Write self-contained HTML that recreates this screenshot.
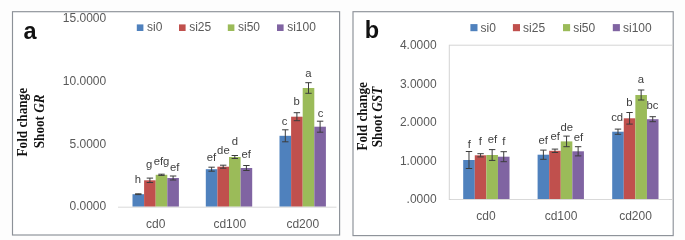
<!DOCTYPE html>
<html><head><meta charset="utf-8"><title>chart</title>
<style>html,body{margin:0;padding:0;background:#fdfdfd;}svg{display:block;}</style></head>
<body><svg width="685" height="240" viewBox="0 0 685 240">
<rect width="685" height="240" fill="#fdfdfd"/>
<rect x="12.5" y="11.7" width="327.1" height="223.3" fill="#ffffff" stroke="#8c9198" stroke-width="1.15"/>
<text x="23.5" y="38.6" font-family="Liberation Sans, sans-serif" font-weight="bold" font-size="23.5" fill="#111">a</text>
<text x="106.2" y="22" text-anchor="end" font-family="Liberation Sans, sans-serif" font-size="12" fill="#595959">15.0000</text>
<text x="106.2" y="85.2" text-anchor="end" font-family="Liberation Sans, sans-serif" font-size="12" fill="#595959">10.0000</text>
<text x="106.2" y="147.7" text-anchor="end" font-family="Liberation Sans, sans-serif" font-size="12" fill="#595959">5.0000</text>
<text x="106.2" y="210.2" text-anchor="end" font-family="Liberation Sans, sans-serif" font-size="12" fill="#595959">0.0000</text>
<text transform="translate(27.2,122.2) rotate(-90) scale(1,1.06)" text-anchor="middle" font-family="Liberation Serif, serif" font-weight="bold" font-size="13.2" fill="#111">Fold change</text>
<text transform="translate(44,121.3) rotate(-90) scale(1,1.06)" text-anchor="middle" font-family="Liberation Serif, serif" font-weight="bold" font-size="13.2" fill="#111">Shoot <tspan font-style="italic">GR</tspan></text>
<rect x="136.8" y="24.4" width="6.6" height="6.6" fill="#4f81bd"/>
<text x="147.0" y="31.3" font-family="Liberation Sans, sans-serif" font-size="12" fill="#595959">si0</text>
<rect x="179" y="24.4" width="6.6" height="6.6" fill="#c0504d"/>
<text x="189.2" y="31.3" font-family="Liberation Sans, sans-serif" font-size="12" fill="#595959">si25</text>
<rect x="227.8" y="24.4" width="6.6" height="6.6" fill="#9bbb59"/>
<text x="238.0" y="31.3" font-family="Liberation Sans, sans-serif" font-size="12" fill="#595959">si50</text>
<rect x="277" y="24.4" width="6.6" height="6.6" fill="#8064a2"/>
<text x="287.2" y="31.3" font-family="Liberation Sans, sans-serif" font-size="12" fill="#595959">si100</text>
<rect x="132.50" y="194.2" width="11.6" height="12.50" fill="#4f81bd"/>
<path d="M138.30 193.79999999999998V194.6M135.10 193.79999999999998h6.4M135.10 194.6h6.4" stroke="#3c3c3c" stroke-width="1" fill="none"/>
<text x="137.8" y="182.6" text-anchor="middle" font-family="Liberation Sans, sans-serif" font-size="11.3" fill="#404040">h</text>
<rect x="144.10" y="180.3" width="11.6" height="26.40" fill="#c0504d"/>
<path d="M149.90 178.10000000000002V182.5M146.70 178.10000000000002h6.4M146.70 182.5h6.4" stroke="#3c3c3c" stroke-width="1" fill="none"/>
<text x="149.2" y="168.3" text-anchor="middle" font-family="Liberation Sans, sans-serif" font-size="11.3" fill="#404040">g</text>
<rect x="155.70" y="174.8" width="11.6" height="31.90" fill="#9bbb59"/>
<path d="M161.50 174.20000000000002V175.4M158.30 174.20000000000002h6.4M158.30 175.4h6.4" stroke="#3c3c3c" stroke-width="1" fill="none"/>
<text x="161.5" y="165" text-anchor="middle" font-family="Liberation Sans, sans-serif" font-size="11.3" fill="#404040">efg</text>
<rect x="167.30" y="178" width="11.6" height="28.70" fill="#8064a2"/>
<path d="M173.10 176V180M169.90 176h6.4M169.90 180h6.4" stroke="#3c3c3c" stroke-width="1" fill="none"/>
<text x="174.6" y="170.6" text-anchor="middle" font-family="Liberation Sans, sans-serif" font-size="11.3" fill="#404040">ef</text>
<rect x="205.80" y="169.2" width="11.6" height="37.50" fill="#4f81bd"/>
<path d="M211.60 167.2V171.2M208.40 167.2h6.4M208.40 171.2h6.4" stroke="#3c3c3c" stroke-width="1" fill="none"/>
<text x="211.5" y="160.8" text-anchor="middle" font-family="Liberation Sans, sans-serif" font-size="11.3" fill="#404040">ef</text>
<rect x="217.40" y="166.7" width="11.6" height="40.00" fill="#c0504d"/>
<path d="M223.20 165.2V168.2M220.00 165.2h6.4M220.00 168.2h6.4" stroke="#3c3c3c" stroke-width="1" fill="none"/>
<text x="223.4" y="154.3" text-anchor="middle" font-family="Liberation Sans, sans-serif" font-size="11.3" fill="#404040">de</text>
<rect x="229.00" y="157" width="11.6" height="49.70" fill="#9bbb59"/>
<path d="M234.80 155.5V158.5M231.60 155.5h6.4M231.60 158.5h6.4" stroke="#3c3c3c" stroke-width="1" fill="none"/>
<text x="234.8" y="145.4" text-anchor="middle" font-family="Liberation Sans, sans-serif" font-size="11.3" fill="#404040">d</text>
<rect x="240.60" y="168" width="11.6" height="38.70" fill="#8064a2"/>
<path d="M246.40 165.5V170.5M243.20 165.5h6.4M243.20 170.5h6.4" stroke="#3c3c3c" stroke-width="1" fill="none"/>
<text x="246.3" y="157.6" text-anchor="middle" font-family="Liberation Sans, sans-serif" font-size="11.3" fill="#404040">ef</text>
<rect x="279.50" y="135.8" width="11.6" height="70.90" fill="#4f81bd"/>
<path d="M285.30 129.8V141.8M282.10 129.8h6.4M282.10 141.8h6.4" stroke="#3c3c3c" stroke-width="1" fill="none"/>
<text x="284.5" y="124.7" text-anchor="middle" font-family="Liberation Sans, sans-serif" font-size="11.3" fill="#404040">c</text>
<rect x="291.10" y="116.7" width="11.6" height="90.00" fill="#c0504d"/>
<path d="M296.90 112.7V120.7M293.70 112.7h6.4M293.70 120.7h6.4" stroke="#3c3c3c" stroke-width="1" fill="none"/>
<text x="296.7" y="105.3" text-anchor="middle" font-family="Liberation Sans, sans-serif" font-size="11.3" fill="#404040">b</text>
<rect x="302.70" y="88" width="11.6" height="118.70" fill="#9bbb59"/>
<path d="M308.50 82.7V93.3M305.30 82.7h6.4M305.30 93.3h6.4" stroke="#3c3c3c" stroke-width="1" fill="none"/>
<text x="308.4" y="76.7" text-anchor="middle" font-family="Liberation Sans, sans-serif" font-size="11.3" fill="#404040">a</text>
<rect x="314.30" y="126.7" width="11.6" height="80.00" fill="#8064a2"/>
<path d="M320.10 121.2V132.2M316.90 121.2h6.4M316.90 132.2h6.4" stroke="#3c3c3c" stroke-width="1" fill="none"/>
<text x="320.6" y="116.7" text-anchor="middle" font-family="Liberation Sans, sans-serif" font-size="11.3" fill="#404040">c</text>
<path d="M118 207.2H336.5" stroke="#d9d9d9" stroke-width="1"/>
<text x="155.8" y="227.7" text-anchor="middle" font-family="Liberation Sans, sans-serif" font-size="12" fill="#595959">cd0</text>
<text x="229.8" y="227.7" text-anchor="middle" font-family="Liberation Sans, sans-serif" font-size="12" fill="#595959">cd100</text>
<text x="302.8" y="227.7" text-anchor="middle" font-family="Liberation Sans, sans-serif" font-size="12" fill="#595959">cd200</text>
<rect x="353.0" y="11.7" width="320.20000000000005" height="223.9" fill="#ffffff" stroke="#8c9198" stroke-width="1.15"/>
<text x="364.8" y="37.8" font-family="Liberation Sans, sans-serif" font-weight="bold" font-size="23.5" fill="#111">b</text>
<text x="436.6" y="49.3" text-anchor="end" font-family="Liberation Sans, sans-serif" font-size="12" fill="#595959">4.0000</text>
<text x="436.6" y="88" text-anchor="end" font-family="Liberation Sans, sans-serif" font-size="12" fill="#595959">3.0000</text>
<text x="436.6" y="126.4" text-anchor="end" font-family="Liberation Sans, sans-serif" font-size="12" fill="#595959">2.0000</text>
<text x="436.6" y="164.8" text-anchor="end" font-family="Liberation Sans, sans-serif" font-size="12" fill="#595959">1.0000</text>
<text x="436.6" y="203" text-anchor="end" font-family="Liberation Sans, sans-serif" font-size="12" fill="#595959">.0000</text>
<text transform="translate(366.6,116.3) rotate(-90) scale(1,1.06)" text-anchor="middle" font-family="Liberation Serif, serif" font-weight="bold" font-size="13.2" fill="#111">Fold change</text>
<text transform="translate(382.3,117) rotate(-90) scale(1,1.06)" text-anchor="middle" font-family="Liberation Serif, serif" font-weight="bold" font-size="13.2" fill="#111">Shoot <tspan font-style="italic">GST</tspan></text>
<rect x="470.4" y="24.1" width="7.1" height="7.1" fill="#4f81bd"/>
<text x="480.59999999999997" y="31.5" font-family="Liberation Sans, sans-serif" font-size="12" fill="#595959">si0</text>
<rect x="512.9" y="24.1" width="7.1" height="7.1" fill="#c0504d"/>
<text x="523.1" y="31.5" font-family="Liberation Sans, sans-serif" font-size="12" fill="#595959">si25</text>
<rect x="563" y="24.1" width="7.1" height="7.1" fill="#9bbb59"/>
<text x="573.2" y="31.5" font-family="Liberation Sans, sans-serif" font-size="12" fill="#595959">si50</text>
<rect x="612.8" y="24.1" width="7.1" height="7.1" fill="#8064a2"/>
<text x="623.0" y="31.5" font-family="Liberation Sans, sans-serif" font-size="12" fill="#595959">si100</text>
<rect x="449.3" y="45.2" width="223.2" height="154.3" fill="none" stroke="#d4d4d4" stroke-width="1"/>
<rect x="463.20" y="160" width="11.58" height="39.00" fill="#4f81bd"/>
<path d="M468.99 151.5V168.5M465.79 151.5h6.4M465.79 168.5h6.4" stroke="#3c3c3c" stroke-width="1" fill="none"/>
<text x="469.2" y="147.8" text-anchor="middle" font-family="Liberation Sans, sans-serif" font-size="11.3" fill="#404040">f</text>
<rect x="474.78" y="155.3" width="11.58" height="43.70" fill="#c0504d"/>
<path d="M480.57 153.70000000000002V156.9M477.37 153.70000000000002h6.4M477.37 156.9h6.4" stroke="#3c3c3c" stroke-width="1" fill="none"/>
<text x="480.4" y="144.8" text-anchor="middle" font-family="Liberation Sans, sans-serif" font-size="11.3" fill="#404040">f</text>
<rect x="486.36" y="155" width="11.58" height="44.00" fill="#9bbb59"/>
<path d="M492.15 149.6V160.4M488.95 149.6h6.4M488.95 160.4h6.4" stroke="#3c3c3c" stroke-width="1" fill="none"/>
<text x="492.5" y="143.2" text-anchor="middle" font-family="Liberation Sans, sans-serif" font-size="11.3" fill="#404040">ef</text>
<rect x="497.94" y="156.7" width="11.58" height="42.30" fill="#8064a2"/>
<path d="M503.73 151.7V161.7M500.53 151.7h6.4M500.53 161.7h6.4" stroke="#3c3c3c" stroke-width="1" fill="none"/>
<text x="503.8" y="145" text-anchor="middle" font-family="Liberation Sans, sans-serif" font-size="11.3" fill="#404040">f</text>
<rect x="537.60" y="154.7" width="11.58" height="44.30" fill="#4f81bd"/>
<path d="M543.39 150.1V159.29999999999998M540.19 150.1h6.4M540.19 159.29999999999998h6.4" stroke="#3c3c3c" stroke-width="1" fill="none"/>
<text x="543.2" y="143.8" text-anchor="middle" font-family="Liberation Sans, sans-serif" font-size="11.3" fill="#404040">ef</text>
<rect x="549.18" y="150.8" width="11.58" height="48.20" fill="#c0504d"/>
<path d="M554.97 149.10000000000002V152.5M551.77 149.10000000000002h6.4M551.77 152.5h6.4" stroke="#3c3c3c" stroke-width="1" fill="none"/>
<text x="555.3" y="140.1" text-anchor="middle" font-family="Liberation Sans, sans-serif" font-size="11.3" fill="#404040">ef</text>
<rect x="560.76" y="141.4" width="11.58" height="57.60" fill="#9bbb59"/>
<path d="M566.55 136.1V146.70000000000002M563.35 136.1h6.4M563.35 146.70000000000002h6.4" stroke="#3c3c3c" stroke-width="1" fill="none"/>
<text x="566.7" y="130.8" text-anchor="middle" font-family="Liberation Sans, sans-serif" font-size="11.3" fill="#404040">de</text>
<rect x="572.34" y="151.3" width="11.58" height="47.70" fill="#8064a2"/>
<path d="M578.13 146.70000000000002V155.9M574.93 146.70000000000002h6.4M574.93 155.9h6.4" stroke="#3c3c3c" stroke-width="1" fill="none"/>
<text x="578.4" y="140.8" text-anchor="middle" font-family="Liberation Sans, sans-serif" font-size="11.3" fill="#404040">ef</text>
<rect x="612.20" y="131.7" width="11.58" height="67.30" fill="#4f81bd"/>
<path d="M617.99 129.1V134.29999999999998M614.79 129.1h6.4M614.79 134.29999999999998h6.4" stroke="#3c3c3c" stroke-width="1" fill="none"/>
<text x="617.2" y="120.8" text-anchor="middle" font-family="Liberation Sans, sans-serif" font-size="11.3" fill="#404040">cd</text>
<rect x="623.78" y="118.3" width="11.58" height="80.70" fill="#c0504d"/>
<path d="M629.57 112.5V124.1M626.37 112.5h6.4M626.37 124.1h6.4" stroke="#3c3c3c" stroke-width="1" fill="none"/>
<text x="629.3" y="106.3" text-anchor="middle" font-family="Liberation Sans, sans-serif" font-size="11.3" fill="#404040">b</text>
<rect x="635.36" y="95" width="11.58" height="104.00" fill="#9bbb59"/>
<path d="M641.15 90V100M637.95 90h6.4M637.95 100h6.4" stroke="#3c3c3c" stroke-width="1" fill="none"/>
<text x="641" y="82.7" text-anchor="middle" font-family="Liberation Sans, sans-serif" font-size="11.3" fill="#404040">a</text>
<rect x="646.94" y="119.2" width="11.58" height="79.80" fill="#8064a2"/>
<path d="M652.73 116.7V121.7M649.53 116.7h6.4M649.53 121.7h6.4" stroke="#3c3c3c" stroke-width="1" fill="none"/>
<text x="652.4" y="108.7" text-anchor="middle" font-family="Liberation Sans, sans-serif" font-size="11.3" fill="#404040">bc</text>
<path d="M451 199.5H669" stroke="#d9d9d9" stroke-width="1"/>
<text x="486" y="220" text-anchor="middle" font-family="Liberation Sans, sans-serif" font-size="12" fill="#595959">cd0</text>
<text x="561" y="220" text-anchor="middle" font-family="Liberation Sans, sans-serif" font-size="12" fill="#595959">cd100</text>
<text x="635.5" y="220" text-anchor="middle" font-family="Liberation Sans, sans-serif" font-size="12" fill="#595959">cd200</text>
</svg></body></html>
